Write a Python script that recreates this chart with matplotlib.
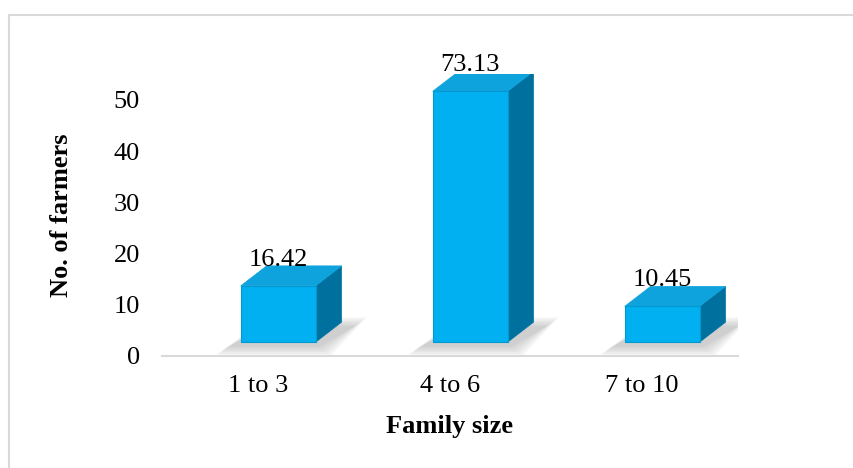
import numpy as np
import matplotlib.pyplot as plt
from matplotlib.patches import Polygon
from matplotlib.lines import Line2D

plt.rcParams['font.family'] = ['Liberation Serif', 'DejaVu Serif']

# Family size of sampled farmers (n = 67)
categories = ['1 to 3', '4 to 6', '7 to 10']
percent = [16.42, 73.13, 10.45]
total_farmers = 67
counts = [round(p * total_farmers / 100) for p in percent]

front_col = '#00B0F0'
side_col = '#00719E'
top_col = '#0EA3DC'

fig = plt.figure(figsize=(8.54, 4.68), dpi=100)
ax = fig.add_axes([162 / 854, 112 / 468, 576 / 854, 281.6 / 468])
ax.set_xlim(-0.5, 2.5)
ax.set_ylim(0, 55)

# pseudo-3D box settings (data units)
w = 0.39       # front face width
shift = 0.105  # box offset to the right of the category centre
lift = 2.7     # front face raised above the floor line
dx, dy = 0.135, 3.9  # depth of the box

for i, v in enumerate(counts):
    x0 = i + shift - w / 2
    x1 = x0 + w
    b = lift
    t = lift + v

    # soft floor shadow built from stacked translucent shapes
    for k in range(6):
        g = 0.012 * k
        gy = 0.35 * k
        shadow = [(x0 - 0.07 - g, b - 0.9 - gy), (x1 + 0.02 + g, b - 0.9 - gy),
                  (x1 + dx + 0.07 + g, b + dy - 0.8 + gy), (x0 + dx, b + dy - 0.8 + gy)]
        ax.add_patch(Polygon(shadow, closed=True, facecolor='#808080',
                             edgecolor='none', alpha=0.07, zorder=1))

    front = [(x0, b), (x1, b), (x1, t), (x0, t)]
    side = [(x1, b), (x1 + dx, b + dy), (x1 + dx, t + dy), (x1, t)]
    top = [(x0, t), (x1, t), (x1 + dx, t + dy), (x0 + dx, t + dy)]
    ax.add_patch(Polygon(side, closed=True, facecolor=side_col,
                         edgecolor=side_col, lw=0.5, zorder=2))
    ax.add_patch(Polygon(top, closed=True, facecolor=top_col,
                         edgecolor=top_col, lw=0.5, zorder=2))
    ax.add_patch(Polygon(front, closed=True, facecolor=front_col,
                         edgecolor='#0098D0', lw=0.8, zorder=3))

    ax.text(i + shift, t + dy, f'{percent[i]:.2f}', ha='center', va='baseline',
            fontsize=19, zorder=4)

ax.set_xticks(range(len(categories)))
ax.set_xticklabels(categories, fontsize=19)
ax.set_yticks([0, 10, 20, 30, 40, 50])
ax.tick_params(axis='both', length=0, labelsize=19)
ax.tick_params(axis='x', pad=14)
ax.tick_params(axis='y', pad=16)

for s in ['top', 'right', 'left']:
    ax.spines[s].set_visible(False)
ax.spines['bottom'].set_color('#D9D9D9')
ax.spines['bottom'].set_linewidth(1.5)

ax.set_xlabel('Family size', fontsize=19, fontweight='bold', labelpad=13)
ax.set_ylabel('No. of farmers', fontsize=19, fontweight='bold', labelpad=29)

# chart area border
fig.add_artist(Line2D([9 / 854, 1.0], [1 - 15 / 468, 1 - 15 / 468],
                      color='#D9D9D9', lw=1.5, transform=fig.transFigure))
fig.add_artist(Line2D([9 / 854, 9 / 854], [0, 1 - 15 / 468],
                      color='#D9D9D9', lw=1.5, transform=fig.transFigure))

fig.savefig('out.png', dpi=100)
